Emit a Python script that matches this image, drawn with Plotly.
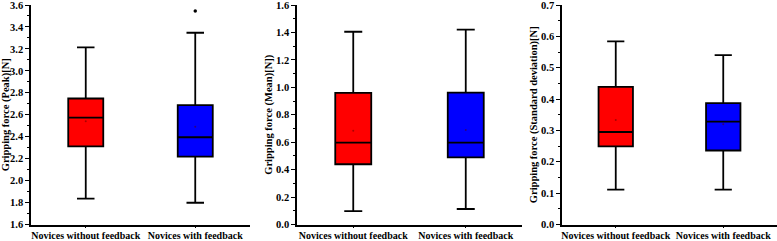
import plotly.graph_objects as go

categories = ["Novices without feedback", "Novices with feedback"]
box_colors = ["#FF0000", "#0000FF"]

# Panel 1: Peak
peak_q1 = [2.312, 2.218]
peak_med = [2.574, 2.395]
peak_q3 = [2.748, 2.687]
peak_lo = [1.835, 1.798]
peak_hi = [3.214, 3.347]
peak_mean = [2.54, 2.49]
peak_outlier_cat = ["Novices with feedback"]
peak_outlier_val = [3.545]

# Panel 2: Mean
mean_q1 = [0.439, 0.49]
mean_med = [0.597, 0.597]
mean_q3 = [0.959, 0.962]
mean_lo = [0.097, 0.113]
mean_hi = [1.405, 1.42]
mean_mean = [0.684, 0.688]

# Panel 3: Standard deviation
sd_q1 = [0.249, 0.236]
sd_med = [0.295, 0.328]
sd_q3 = [0.439, 0.387]
sd_lo = [0.111, 0.111]
sd_hi = [0.584, 0.540]
sd_mean = [0.333, 0.32]

y_titles = ["Gripping force (Peak)[N]", "Gripping force (Mean)[N])",
            "Gripping force (Standard deviation)[N]"]
y_ranges = [[1.6, 3.6], [0.0, 1.6], [0.0, 0.7]]
y_dticks = [0.2, 0.2, 0.1]

W, H = 777, 241
x_doms = [[31 / W, 250 / W], [297 / W, 522 / W], [562 / W, 1.0]]
y_dom = [(H - 224.5) / H, (H - 5) / H]

FONT = "Liberation Serif"

fig = go.Figure()
panels = [
    (peak_q1, peak_med, peak_q3, peak_lo, peak_hi, peak_mean),
    (mean_q1, mean_med, mean_q3, mean_lo, mean_hi, mean_mean),
    (sd_q1, sd_med, sd_q3, sd_lo, sd_hi, sd_mean),
]
for p, (q1, med, q3, lo, hi, mn) in enumerate(panels):
    xa = "x" if p == 0 else f"x{p+1}"
    ya = "y" if p == 0 else f"y{p+1}"
    for i, cat in enumerate(categories):
        fig.add_trace(go.Box(
            x=[cat], q1=[q1[i]], median=[med[i]], q3=[q3[i]],
            lowerfence=[lo[i]], upperfence=[hi[i]],
            fillcolor=box_colors[i], line=dict(color="black", width=1.8),
            width=0.32, whiskerwidth=0.5, boxpoints=False,
            xaxis=xa, yaxis=ya, showlegend=False, hoverinfo="skip"))
    fig.add_trace(go.Scatter(
        x=categories, y=mn, mode="markers",
        marker=dict(size=2, color="rgba(90,0,0,0.5)"),
        xaxis=xa, yaxis=ya, showlegend=False, hoverinfo="skip"))

fig.add_trace(go.Scatter(
    x=peak_outlier_cat, y=peak_outlier_val, mode="markers",
    marker=dict(size=3.5, color="black"),
    xaxis="x", yaxis="y", showlegend=False, hoverinfo="skip"))

layout = dict(
    width=W, height=H,
    margin=dict(l=0, r=0, t=0, b=0),
    paper_bgcolor="white", plot_bgcolor="white",
    showlegend=False,
)
for p in range(3):
    sx = "" if p == 0 else str(p + 1)
    layout["xaxis" + sx] = dict(
        domain=x_doms[p], anchor="y" + sx, type="category",
        categoryorder="array", categoryarray=categories,
        range=[-0.5, 1.5], showline=True, linecolor="black", linewidth=1.5,
        ticks="outside", ticklen=2, tickwidth=1, tickcolor="black",
        ticklabelstandoff=-1, tickangle=0, automargin=False,
        ticklabeloverflow="allow",
        showgrid=False, zeroline=False,
        tickfont=dict(family=FONT, size=10, color="black", weight="bold"),
    )
    layout["yaxis" + sx] = dict(
        domain=y_dom, anchor="x" + sx, automargin=False,
        ticklabeloverflow="allow",
        range=y_ranges[p], dtick=y_dticks[p], tick0=0, tickformat=".1f",
        showline=True, linecolor="black", linewidth=1.5,
        ticks="outside", ticklen=4, tickwidth=1.2, tickcolor="black",
        minor=dict(ticks="outside", ticklen=2, tickwidth=1, tickcolor="black",
                   dtick=y_dticks[p] / 2),
        showgrid=False, zeroline=False,
        tickfont=dict(family=FONT, size=10.5, color="black", weight="bold"),
        title=dict(text=y_titles[p], standoff=1,
                   font=dict(family=FONT, size=10.5, color="black", weight="bold")),
    )
fig.update_layout(**layout)
fig.write_html(
    "out.html",
    config={"displayModeBar": False},
    post_script="document.body.style.margin='0';document.body.style.overflow='hidden';",
)
